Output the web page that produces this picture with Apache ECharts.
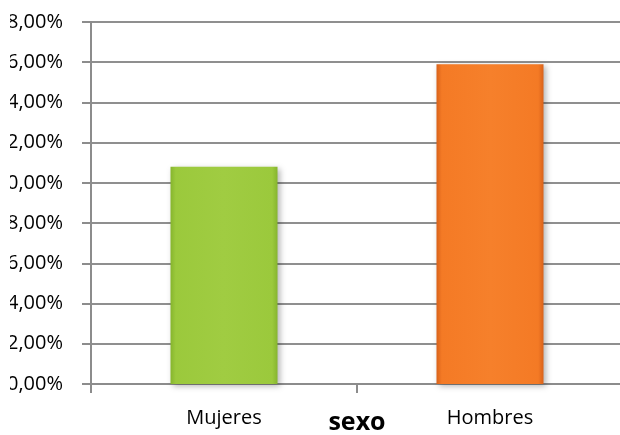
<!DOCTYPE html>
<html>
<head>
<meta charset="utf-8">
<script src="https://cdn.jsdelivr.net/npm/echarts@6/dist/echarts.min.js"></script>
<style>html,body{margin:0;padding:0;background:#fff}#c{width:620px;height:435px}</style>
</head>
<body>
<div id="c"></div>
<script>
const categories = ['Mujeres', 'Hombres'];
const values = [10.8, 15.9];
const axisName = 'sexo';
const yMin = 0, yMax = 18, yStep = 2;

function barGrad(edge, main, light) {
  return {
    type: 'linear', x: 0, y: 0, x2: 1, y2: 0,
    colorStops: [
      {offset: 0, color: edge}, {offset: 0.05, color: main},
      {offset: 0.5, color: light}, {offset: 0.95, color: main}, {offset: 1, color: edge}
    ]
  };
}
const barColors = [
  barGrad('#86b52e', '#9bc93c', '#a0cc42'),
  barGrad('#d9621a', '#f47a25', '#f6802b')
];

const chart = echarts.init(document.getElementById('c'), null, {renderer: 'canvas'});
chart.setOption({
  animation: false,
  backgroundColor: '#fff',
  grid: {left: 91, right: -3, top: 22, bottom: 51, containLabel: false, outerBoundsMode: 'none'},
  xAxis: {
    type: 'category',
    data: categories,
    name: axisName,
    nameLocation: 'middle',
    nameGap: 26,
    nameMoveOverlap: false,
    nameTextStyle: {fontFamily: 'Open Sans', fontWeight: 'bold', fontSize: 25, color: '#000', verticalAlign: 'top'},
    axisLine: {lineStyle: {color: '#8c8c8c', width: 2}},
    axisTick: {show: true, length: 9, lineStyle: {color: '#8c8c8c', width: 2}},
    axisLabel: {margin: 24, fontFamily: 'Open Sans', fontSize: 20, color: '#000'}
  },
  yAxis: {
    type: 'value', min: yMin, max: yMax, interval: yStep,
    axisLine: {show: true, lineStyle: {color: '#8c8c8c', width: 2}},
    axisTick: {show: true, length: 9, lineStyle: {color: '#8c8c8c', width: 2}},
    splitLine: {lineStyle: {color: '#8f8f8f', width: 2}},
    axisLabel: {
      margin: 28, fontFamily: 'Open Sans', fontSize: 20, color: '#000',
      formatter: v => v.toFixed(2).replace('.', ',') + '%'
    }
  },
  series: [{
    type: 'bar',
    barWidth: 107,
    data: values.map((v, i) => ({
      value: v,
      itemStyle: {
        color: barColors[i],
        shadowBlur: 6, shadowColor: 'rgba(0,0,0,0.3)', shadowOffsetX: 2, shadowOffsetY: 2
      }
    }))
  }],
  graphic: [{
    type: 'rect', left: 0, top: 0, z: 100,
    shape: {width: 10, height: 400},
    style: {fill: '#fff'}
  }]
});
</script>
</body>
</html>
